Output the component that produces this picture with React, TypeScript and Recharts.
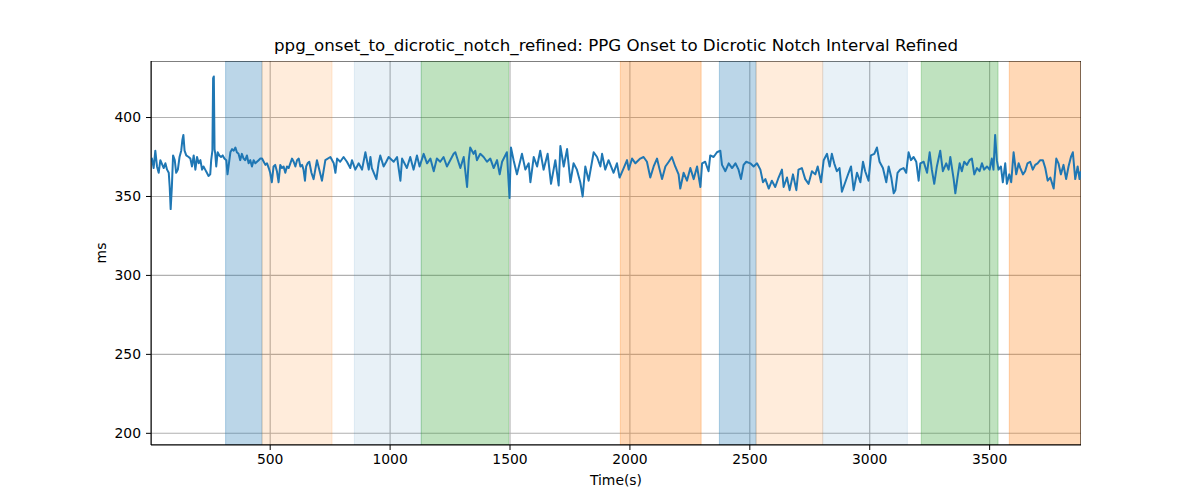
import React from 'react';
import { ComposedChart, Line, XAxis, YAxis, CartesianGrid, ReferenceArea } from 'recharts';

// time (s) of each sample
const times = [
  4, 7, 14, 21, 28, 35, 42, 56, 63, 70, 77, 81, 85, 90, 95, 102, 108, 115, 122, 129,
  134, 138, 143, 150, 160, 167, 174, 181, 188, 195, 202, 209, 216, 222, 229, 236, 243, 250, 254, 259,
  262, 265, 268, 271, 275, 281, 288, 295, 302, 309, 317, 322, 328, 334, 341, 348, 355, 361, 368, 375,
  382, 389, 396, 403, 410, 417, 424, 431, 438, 445, 452, 459, 466, 473, 480, 487, 494, 500, 507, 514,
  521, 528, 535, 542, 549, 556, 563, 570, 577, 584, 591, 598, 605, 612, 619, 626, 633, 639, 645, 650,
  656, 663, 672, 681, 695, 716, 730, 751, 765, 772, 779, 792, 806, 820, 834, 841, 855, 869, 883, 897,
  911, 918, 924, 943, 952, 959, 973, 984, 994, 1015, 1029, 1043, 1050, 1070, 1084, 1098, 1112, 1123, 1140, 1154,
  1168, 1182, 1195, 1209, 1223, 1237, 1265, 1272, 1293, 1307, 1321, 1328, 1334, 1348, 1355, 1362, 1376, 1390, 1404, 1418,
  1432, 1446, 1457, 1467, 1487, 1498, 1504, 1515, 1529, 1550, 1564, 1578, 1585, 1599, 1613, 1626, 1640, 1657, 1671, 1689,
  1703, 1710, 1724, 1738, 1752, 1765, 1779, 1793, 1803, 1814, 1828, 1849, 1863, 1877, 1884, 1897, 1911, 1932, 1946, 1957,
  1974, 1988, 1995, 2009, 2023, 2043, 2057, 2071, 2085, 2099, 2113, 2124, 2134, 2148, 2162, 2175, 2189, 2203, 2210, 2224,
  2238, 2252, 2266, 2280, 2294, 2301, 2314, 2328, 2335, 2349, 2363, 2377, 2384, 2398, 2412, 2426, 2440, 2453, 2463, 2474,
  2485, 2502, 2516, 2530, 2544, 2555, 2565, 2579, 2592, 2606, 2620, 2634, 2641, 2655, 2666, 2680, 2694, 2703, 2717, 2731,
  2745, 2759, 2773, 2783, 2797, 2808, 2822, 2833, 2842, 2852, 2863, 2874, 2884, 2898, 2912, 2922, 2933, 2947, 2961, 2972,
  2981, 2995, 3005, 3019, 3030, 3041, 3055, 3069, 3079, 3090, 3100, 3107, 3116, 3127, 3141, 3152, 3162, 3172, 3183, 3194,
  3204, 3211, 3225, 3239, 3250, 3259, 3269, 3280, 3294, 3305, 3319, 3329, 3336, 3350, 3357, 3366, 3375, 3384, 3394, 3405,
  3416, 3426, 3436, 3447, 3458, 3468, 3477, 3489, 3500, 3509, 3516, 3523, 3530, 3537, 3547, 3555, 3565, 3572, 3582, 3590,
  3600, 3611, 3621, 3628, 3639, 3648, 3658, 3669, 3680, 3690, 3700, 3711, 3722, 3732, 3742, 3753, 3767, 3778, 3787, 3797,
  3808, 3819, 3829, 3839, 3847, 3857, 3867, 3875, 3880,
];

// interval in ms
const values = [
  372, 374, 368, 379, 369, 365, 373, 368, 371, 367, 365, 356, 342, 356, 376, 373, 365, 367, 375, 379,
  386, 389, 379, 376, 375, 374, 369, 376, 367, 375, 371, 373, 367, 369, 367, 365, 363, 364, 373, 379,
  425, 426, 380, 377, 369, 378, 376, 375, 376, 374, 373, 364, 371, 378, 380, 379, 381, 378, 377, 373,
  377, 374, 373, 376, 371, 373, 369, 373, 371, 372, 373, 374, 374, 372, 370, 371, 368, 365, 359, 369,
  370, 366, 359, 370, 368, 369, 365, 369, 368, 371, 374, 372, 369, 373, 374, 369, 370, 367, 360, 369,
  371, 372, 365, 361, 373, 360, 373, 375, 371, 365, 374, 372, 375, 372, 368, 373, 367, 371, 367, 378,
  367, 375, 368, 361, 371, 376, 369, 372, 375, 372, 375, 360, 374, 368, 375, 367, 376, 369, 377, 371,
  374, 366, 374, 372, 375, 369, 377, 378, 368, 375, 356, 373, 381, 377, 379, 373, 377, 375, 372, 374,
  368, 373, 364, 372, 378, 349, 381, 373, 364, 377, 367, 371, 359, 375, 369, 379, 367, 377, 358, 373,
  357, 382, 369, 380, 359, 371, 367, 359, 350, 369, 360, 378, 375, 369, 377, 367, 373, 365, 371, 362,
  368, 373, 367, 374, 371, 374, 375, 372, 362, 369, 374, 367, 361, 369, 372, 375, 369, 364, 355, 365,
  360, 368, 361, 369, 356, 371, 372, 366, 376, 375, 378, 379, 370, 366, 371, 368, 371, 367, 361, 370,
  372, 371, 369, 371, 367, 359, 361, 355, 360, 356, 362, 367, 356, 362, 354, 364, 354, 367, 368, 361,
  358, 366, 364, 369, 359, 373, 377, 369, 377, 371, 366, 368, 353, 359, 365, 369, 354, 365, 359, 372,
  366, 360, 376, 377, 381, 372, 368, 359, 369, 362, 352, 354, 365, 367, 368, 365, 378, 373, 375, 372,
  360, 371, 372, 365, 378, 367, 358, 369, 379, 366, 371, 367, 375, 361, 352, 362, 371, 366, 372, 370,
  373, 374, 364, 368, 366, 371, 367, 369, 367, 374, 367, 389, 373, 367, 369, 359, 371, 358, 364, 359,
  378, 364, 371, 368, 364, 366, 371, 372, 367, 370, 371, 373, 373, 368, 360, 362, 355, 374, 371, 364,
  370, 361, 369, 375, 378, 361, 369, 361, 366,
];

// shaded segments (axvspan-like)
const bandStart = [314, 466, 851, 1130, 1960, 2373, 2526, 2804, 3215, 3582];
const bandEnd = [466, 758, 1130, 1494, 2297, 2526, 2804, 3157, 3535, 3881];
const bandColor = ['#1f77b4', '#ff7f0e', '#1f77b4', '#2ca02c', '#ff7f0e', '#1f77b4', '#ff7f0e', '#1f77b4', '#2ca02c', '#ff7f0e'];
const bandAlpha = [0.3, 0.15, 0.1, 0.3, 0.3, 0.3, 0.15, 0.1, 0.3, 0.3];

const xTicks = [500, 1000, 1500, 2000, 2500, 3000, 3500];
const yTicks = [200, 250, 300, 350, 400];
const xDomain = [3, 3881];
const yDomain = [192.6, 435.8];

const data = times.map((t, i) => ({ t, v: values[i] }));

const font = "'DejaVu Sans', sans-serif";

export default function App() {
  return (
    <div style={{ position: 'absolute', left: 0, top: 0, width: 1200, height: 500, background: '#fff', fontFamily: font }}>
      <div style={{ position: 'absolute', left: 151, width: 930, top: 36, textAlign: 'center', fontSize: 16.67, lineHeight: '20px', color: '#000' }}>
        ppg_onset_to_dicrotic_notch_refined: PPG Onset to Dicrotic Notch Interval Refined
      </div>
      <div style={{ position: 'absolute', left: 151, width: 930, top: 472, textAlign: 'center', fontSize: 13.9, lineHeight: '17px', color: '#000' }}>
        Time(s)
      </div>
      <div style={{ position: 'absolute', left: 101, top: 253, fontSize: 13.9, lineHeight: '17px', color: '#000', transform: 'translate(-50%, -50%) rotate(-90deg)' }}>
        ms
      </div>
      <ComposedChart width={1200} height={500} data={data} margin={{ top: 61, right: 119, bottom: 0, left: 0 }}>
        <CartesianGrid stroke="#b0b0b0" strokeWidth={1.1} horizontalValues={yTicks} verticalValues={xTicks} />
        <XAxis
          dataKey="t"
          type="number"
          domain={xDomain}
          ticks={xTicks}
          allowDataOverflow
          height={55}
          tickSize={5}
          tickMargin={4}
          tick={{ fill: '#000', fontSize: 13.9, fontFamily: font }}
          tickLine={{ stroke: '#000' }}
          axisLine={{ stroke: '#000' }}
        />
        <YAxis
          type="number"
          domain={yDomain}
          ticks={yTicks}
          allowDataOverflow
          width={151}
          tickSize={5}
          tickMargin={5}
          tick={{ fill: '#000', fontSize: 13.9, fontFamily: font }}
          tickLine={{ stroke: '#000' }}
          axisLine={{ stroke: '#000' }}
        />
        {bandStart.map((s, i) => (
          <ReferenceArea
            key={i}
            x1={s}
            x2={bandEnd[i]}
            y1={yDomain[0]}
            y2={yDomain[1]}
            fill={bandColor[i]}
            fillOpacity={bandAlpha[i]}
            stroke={bandColor[i]}
            strokeOpacity={bandAlpha[i]}
            ifOverflow="hidden"
          />
        ))}
        <Line
          type="linear"
          dataKey="v"
          stroke="#1f77b4"
          strokeWidth={2}
          strokeLinejoin="round"
          dot={false}
          isAnimationActive={false}
        />
        <ReferenceArea
          x1={xDomain[0]}
          x2={xDomain[1]}
          y1={yDomain[0]}
          y2={yDomain[1]}
          fill="none"
          stroke="#000"
          strokeWidth={1}
          ifOverflow="hidden"
        />
      </ComposedChart>
    </div>
  );
}
